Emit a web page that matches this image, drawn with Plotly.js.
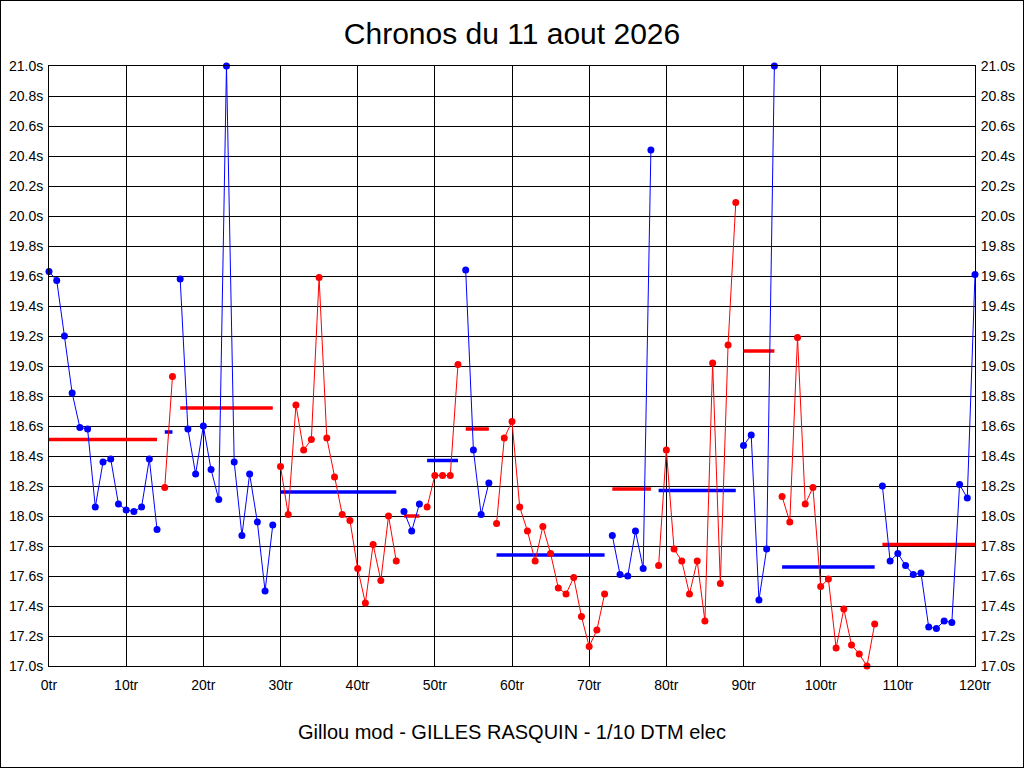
<!DOCTYPE html>
<html>
<head>
<meta charset="utf-8">
<script src="https://cdn.plot.ly/plotly-3.0.1.min.js"></script>
<style>
    body{
        margin: 0;
        background: #FFFFFF;
    }
    #chart{
        width: 1022px;
        height: 766px;
        border: 1px solid #000000;
    }
</style>
</head>
<body>
<div id="chart"></div>
<script>
// temps au tour (s), tours 0..120
var lapTimes = [
    19.63, 19.57, 19.20, 18.82, 18.59, 18.58, 18.06, 18.36, 18.38, 18.08,
    18.04, 18.03, 18.06, 18.38, 17.91, 18.19, 18.93, 19.58, 18.58, 18.28,
    18.60, 18.31, 18.11, 21.00, 18.36, 17.87, 18.28, 17.96, 17.50, 17.94,
    18.33, 18.01, 18.74, 18.44, 18.51, 19.59, 18.52, 18.26, 18.01, 17.97,
    17.65, 17.42, 17.81, 17.57, 18.00, 17.70, 18.03, 17.90, 18.08, 18.06,
    18.27, 18.27, 18.27, 19.01, 19.64, 18.44, 18.01, 18.22, 17.95, 18.52,
    18.63, 18.06, 17.90, 17.70, 17.93, 17.75, 17.52, 17.48, 17.59, 17.33,
    17.13, 17.24, 17.48, 17.87, 17.61, 17.60, 17.90, 17.65, 20.44, 17.67,
    18.44, 17.78, 17.70, 17.48, 17.70, 17.30, 19.02, 17.55, 19.14, 20.09,
    18.47, 18.54, 17.44, 17.78, 21.00, 18.13, 17.96, 19.19, 18.08, 18.19,
    17.53, 17.58, 17.12, 17.38, 17.14, 17.08, 17.00, 17.28, 18.20, 17.70,
    17.75, 17.67, 17.61, 17.62, 17.26, 17.25, 17.30, 17.29, 18.21, 18.12,
    19.61
];

// relais : premier et dernier tour, moyenne
var segStart = [0, 15, 17, 30, 46, 49, 54, 58, 73, 79, 90, 95, 108];
var segEnd   = [14, 16, 29, 45, 48, 53, 57, 72, 78, 89, 94, 107, 120];
var segAvg   = [18.51, 18.56, 18.72, 18.16, 18.00, 18.37, 18.58, 17.74, 18.18, 18.17, 19.10, 17.66, 17.81];

var xTicks = [0, 10, 20, 30, 40, 50, 60, 70, 80, 90, 100, 110, 120];
var xTickText = ["0tr", "10tr", "20tr", "30tr", "40tr", "50tr", "60tr", "70tr", "80tr", "90tr", "100tr", "110tr", "120tr"];
var yTicks = [17.0, 17.2, 17.4, 17.6, 17.8, 18.0, 18.2, 18.4, 18.6, 18.8, 19.0, 19.2, 19.4, 19.6, 19.8, 20.0, 20.2, 20.4, 20.6, 20.8, 21.0];
var yTickText = yTicks.map(function (v){ return v.toFixed(1) + "s"; });

var blue = "#0000FF";
var red = "#FF0000";

var data = [];

for (var i = 0; i < segStart.length; i++){
    var col = (i % 2 === 0) ? blue : red;
    var other = (i % 2 === 0) ? red : blue;
    var xs = [];
    var ys = [];
    for (var k = segStart[i]; k <= segEnd[i]; k++){
        xs.push(k);
        ys.push(lapTimes[k]);
    }
    // moyenne du relais, dans l'autre couleur
    data.push({
        x: [segStart[i], segEnd[i]],
        y: [segAvg[i], segAvg[i]],
        type: 'scatter',
        mode: 'lines',
        line: {color: other, width: 3.5},
        hoverinfo: 'skip',
        cliponaxis: false
    });
    data.push({
        x: xs,
        y: ys,
        type: 'scatter',
        mode: 'lines+markers',
        line: {color: col, width: 1},
        marker: {color: col, size: 7},
        cliponaxis: false
    });
}

// axe de droite (mêmes graduations)
data.push({
    x: [0, 120],
    y: [17, 21],
    yaxis: 'y2',
    type: 'scatter',
    mode: 'markers',
    marker: {opacity: 0},
    hoverinfo: 'skip'
});

var tickFont = {family: 'Liberation Sans, Arial, sans-serif', size: 14, color: '#000000'};

var layout = {
    width: 1022,
    height: 766,
    showlegend: false,
    paper_bgcolor: '#FFFFFF',
    plot_bgcolor: '#FFFFFF',
    margin: {l: 48, r: 48, t: 65, b: 101},
    title: {
        text: 'Chronos du 11 aout 2026',
        font: {family: 'Liberation Sans, Arial, sans-serif', size: 30, color: '#000000'},
        x: 0.5,
        xanchor: 'center',
        y: 1 - 32 / 766,
        yanchor: 'middle'
    },
    xaxis: {
        range: [0, 120],
        tickvals: xTicks,
        ticktext: xTickText,
        tickfont: tickFont,
        ticks: 'outside',
        ticklen: 6,
        tickcolor: 'rgba(0,0,0,0)',
        showgrid: true,
        gridcolor: '#000000',
        gridwidth: 1,
        showline: true,
        linecolor: '#000000',
        linewidth: 1,
        mirror: true,
        zeroline: false,
        fixedrange: true
    },
    yaxis: {
        range: [17, 21],
        tickvals: yTicks,
        ticktext: yTickText,
        tickfont: tickFont,
        ticks: 'outside',
        ticklen: 2,
        tickcolor: 'rgba(0,0,0,0)',
        showgrid: true,
        gridcolor: '#000000',
        gridwidth: 1,
        showline: true,
        linecolor: '#000000',
        linewidth: 1,
        mirror: true,
        zeroline: false,
        fixedrange: true
    },
    yaxis2: {
        range: [17, 21],
        overlaying: 'y',
        side: 'right',
        tickvals: yTicks,
        ticktext: yTickText,
        tickfont: tickFont,
        ticks: 'outside',
        ticklen: 2,
        tickcolor: 'rgba(0,0,0,0)',
        showgrid: false,
        zeroline: false,
        fixedrange: true
    },
    annotations: [{
        text: 'Gillou mod - GILLES RASQUIN - 1/10 DTM elec',
        xref: 'paper',
        yref: 'paper',
        x: 0.5,
        y: -(732 - 666) / 600,
        xanchor: 'center',
        yanchor: 'middle',
        showarrow: false,
        font: {family: 'Liberation Sans, Arial, sans-serif', size: 20, color: '#000000'}
    }]
};

Plotly.newPlot('chart', data, layout, {displayModeBar: false, staticPlot: true});
</script>
</body>
</html>
